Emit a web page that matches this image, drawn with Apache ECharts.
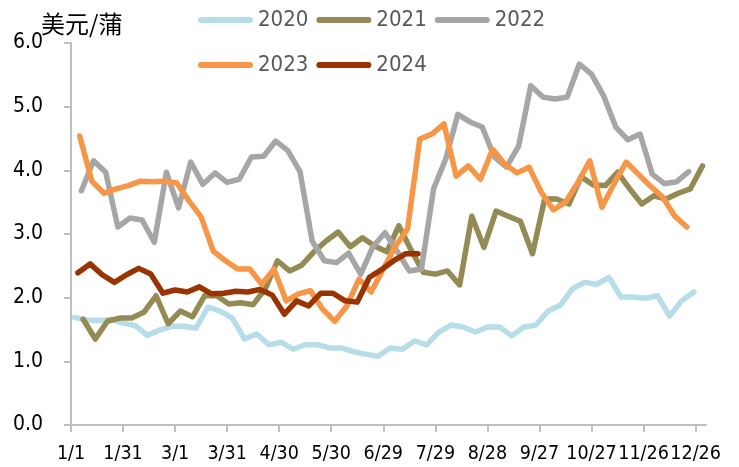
<!DOCTYPE html>
<html>
<head>
<meta charset="utf-8">
<script src="https://cdn.jsdelivr.net/npm/echarts@6/dist/echarts.min.js"></script>
<style>
  html, body { margin: 0; padding: 0; background: #fff; }
  #chart { width: 739px; height: 467px; }
</style>
</head>
<body>
<div id="chart"></div>
<script>
// x轴刻度（每30天一个）
var tickLabels = ['1/1', '1/31', '3/1', '3/31', '4/30', '5/30', '6/29', '7/29', '8/28', '9/27', '10/27', '11/26', '12/26']
var years = ['2020', '2021', '2022', '2023', '2024']
// 每年第一个周度数据所在的天数（从1/1起算）
var startDays = [2, 7, 6, 5, 4]
var colors = ['#B7DEE8', '#948A54', '#A6A6A6', '#F79646', '#993300']

var v2020 = [1.69, 1.65, 1.64, 1.66, 1.60, 1.56, 1.41, 1.49, 1.55, 1.55, 1.52, 1.85, 1.79,
  1.68, 1.35, 1.43, 1.26, 1.30, 1.19, 1.26, 1.26, 1.21, 1.21, 1.15, 1.11, 1.08, 1.21,
  1.19, 1.32, 1.26, 1.46, 1.57, 1.54, 1.46, 1.54, 1.54, 1.40, 1.54, 1.57, 1.79, 1.88,
  2.14, 2.24, 2.21, 2.32, 2.01, 2.01, 1.99, 2.03, 1.71, 1.95, 2.09]
var v2021 = [1.66, 1.35, 1.63, 1.68, 1.68, 1.77, 2.03, 1.59, 1.79, 1.70, 2.03, 2.03, 1.90,
  1.92, 1.89, 2.14, 2.58, 2.42, 2.51, 2.72, 2.89, 3.03, 2.80, 2.94, 2.81, 2.72, 3.13,
  2.75, 2.40, 2.37, 2.42, 2.20, 3.28, 2.79, 3.36, 3.28, 3.20, 2.69, 3.55, 3.55, 3.47,
  3.90, 3.77, 3.76, 3.97, 3.71, 3.47, 3.60, 3.55, 3.64, 3.71, 4.07]
var v2022 = [3.68, 4.15, 3.97, 3.11, 3.25, 3.22, 2.87, 3.97, 3.41, 4.13, 3.78, 3.96, 3.81,
  3.86, 4.21, 4.22, 4.46, 4.31, 3.98, 2.89, 2.58, 2.55, 2.70, 2.37, 2.80, 3.02, 2.73,
  2.42, 2.45, 3.71, 4.18, 4.88, 4.76, 4.68, 4.21, 4.05, 4.38, 5.33, 5.15, 5.12, 5.15,
  5.67, 5.51, 5.17, 4.68, 4.48, 4.57, 3.94, 3.79, 3.82, 3.98]
var v2023 = [4.54, 3.83, 3.64, 3.71, 3.76, 3.83, 3.82, 3.83, 3.80, 3.52, 3.27, 2.73, 2.58,
  2.45, 2.45, 2.21, 2.45, 1.95, 2.06, 2.11, 1.82, 1.63, 1.87, 2.29, 2.09, 2.45, 2.81,
  3.08, 4.49, 4.57, 4.73, 3.91, 4.07, 3.86, 4.33, 4.10, 3.96, 4.05, 3.66, 3.38, 3.50,
  3.80, 4.15, 3.42, 3.79, 4.13, 3.94, 3.75, 3.58, 3.28, 3.11]
var v2024 = [2.39, 2.53, 2.36, 2.24, 2.36, 2.46, 2.37, 2.07, 2.12, 2.09, 2.17, 2.06, 2.07,
  2.10, 2.09, 2.13, 2.04, 1.74, 1.95, 1.87, 2.07, 2.07, 1.95, 1.93, 2.32, 2.44, 2.58,
  2.69, 2.69]
var values = [v2020, v2021, v2022, v2023, v2024]

var fontCn = "'Noto Sans CJK SC', sans-serif"
var fontNum = "'Liberation Sans Narrow', 'DejaVu Sans Condensed', sans-serif"
var axisGrey = '#BFBFBF'
// 图例用的圆头短线
var legendIcon = 'path://M3,0H52A3,3 0 0 1 52,6H3A3,3 0 0 1 3,0Z'

var serise = years.map(function (y, k) {
  return {
    name: y,
    type: 'line',
    symbol: 'none',
    data: values[k].map(function (v, i) { return [startDays[k] + 7 * i, v] }),
    lineStyle: { color: colors[k], width: 5.5, cap: 'round', join: 'round' },
    itemStyle: { color: colors[k] },
    z: 2 + k
  }
})

var tickValues = tickLabels.map(function (t, i) { return i * 30 })

function legendRow (names, top) {
  return {
    data: names,
    left: 193,
    top: top,
    icon: legendIcon,
    itemWidth: 55,
    itemHeight: 6,
    itemGap: 8,
    textStyle: { color: '#595959', fontSize: 22, fontFamily: fontNum }
  }
}

var option = {
  animation: false,
  color: colors,
  title: {
    text: '美元/蒲',
    left: 41,
    top: 12,
    padding: 0,
    textStyle: { color: '#000', fontSize: 24, fontWeight: 'normal', fontFamily: fontCn }
  },
  grid: { left: 71, right: 33, top: 43, bottom: 42 },
  legend: [legendRow(['2020', '2021', '2022'], 4), legendRow(['2023', '2024'], 49)],
  xAxis: {
    type: 'value',
    min: 0,
    max: 366,
    interval: 30,
    splitLine: { show: false },
    axisLine: { lineStyle: { color: axisGrey, width: 2 } },
    axisTick: { show: true, length: 7, customValues: tickValues, lineStyle: { color: axisGrey, width: 2 } },
    axisLabel: {
      customValues: tickValues,
      showMinLabel: true,
      showMaxLabel: true,
      hideOverlap: false,
      margin: 19,
      color: '#000',
      fontSize: 19.5,
      fontFamily: fontNum,
      formatter: function (v) { return tickLabels[Math.round(v / 30)] }
    }
  },
  yAxis: {
    type: 'value',
    min: 0,
    max: 6,
    interval: 1,
    splitLine: { show: false },
    axisLine: { show: true, lineStyle: { color: axisGrey, width: 2 } },
    axisTick: { show: true, length: 7, lineStyle: { color: axisGrey, width: 2 } },
    axisLabel: {
      margin: 28,
      color: '#000',
      fontSize: 21,
      fontFamily: fontNum,
      formatter: function (v) { return v.toFixed(1) }
    }
  },
  series: serise
}

var myChart = echarts.init(document.getElementById('chart'))
myChart.setOption(option)
</script>
</body>
</html>
